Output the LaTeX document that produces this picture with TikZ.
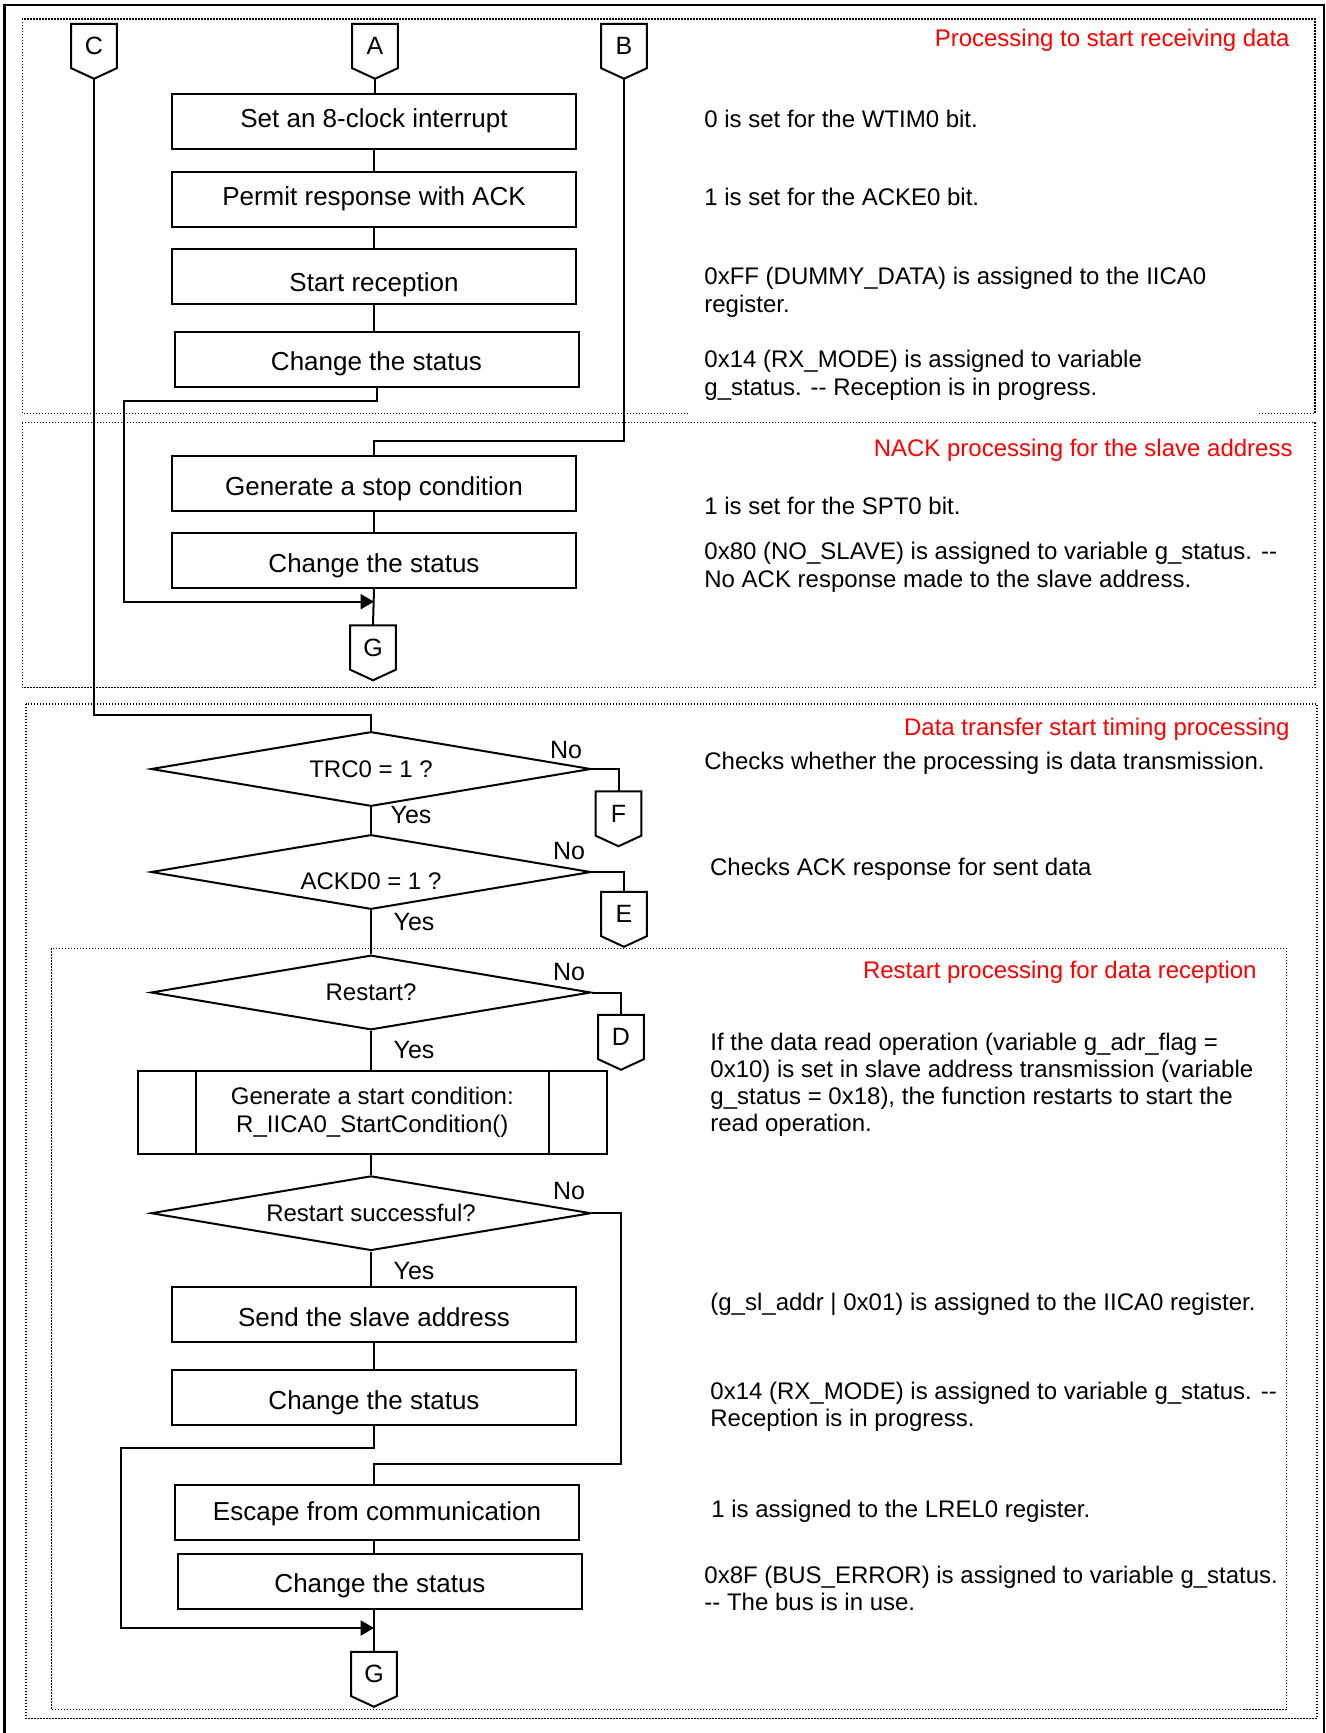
\documentclass[tikz,border=0pt]{standalone}
\usepackage{fontspec}
\setmainfont{Liberation Sans}
\usetikzlibrary{shapes.geometric,arrows.meta,calc}

\tikzset{
  line/.style={line width=1pt},
  proc/.style={draw, line width=1pt, rectangle, minimum width=202pt, minimum height=27.5pt, inner sep=0pt, text height=8pt, text depth=0pt, font=\fontsize{13}{15.6}\selectfont},
  dec/.style={diamond, draw, line width=1pt, aspect=5.9, minimum width=220pt, minimum height=37.3pt, inner sep=0pt, font=\fontsize{12}{14.4}\selectfont},
  pp/.style={draw, line width=1pt, rectangle, minimum width=234.75pt, minimum height=41.5pt, inner sep=0pt, align=center, font=\fontsize{12}{14.15}\selectfont},
  conn/.style={rectangle, minimum width=22.5pt, minimum height=21.75pt, inner sep=0pt, font=\fontsize{12.5}{15}\selectfont},
  connline/.style={line width=1pt, line join=miter},
  desc/.style={anchor=base west, inner sep=0pt, align=left, font=\fontsize{12}{13.6}\selectfont},
  ttl/.style={anchor=base east, inner sep=0pt, text=red, font=\fontsize{12}{14}\selectfont},
  yn/.style={inner sep=0pt, font=\fontsize{12.5}{15}\selectfont},
  region/.style={line width=0.7pt, dash pattern=on 0.7pt off 0.8pt},
  frame/.style={line width=1.3pt},
  arr/.style={line width=1pt, -{Triangle[length=6.7pt,width=7.5pt]}},
}

% move a text down inside its node without changing the node size
\newcommand\shiftdown[2]{\raisebox{-#1}[\height][\depth]{#2}}

\newcommand\offpage[3]{%
  \node[conn] (#1) at (#2) {#3};
  \coordinate (#1t) at ([yshift=-5.3pt]#1.south);
  \draw[connline] (#1.north west) -- (#1.north east) -- (#1.south east) -- (#1t) -- (#1.south west) -- cycle;
}

\begin{document}
\begin{tikzpicture}[x=0.5pt, y=-0.5pt]
\useasboundingbox (0,0) rectangle (1326,1733);

% outer frame and regions
\draw[frame] (4.5,5) rectangle (1324,1745);
\draw[region] (688,413.3) -- (22.3,413.3) -- (22.3,19) -- (1315,19) -- (1315,413.3) -- (1258,413.3);
\draw[region] (22.3,422.7) rectangle (1315,687.5);
\draw[region] (26,704) rectangle (1317,1718.5);
\draw[region] (51.3,948.3) rectangle (1286.5,1709.5);

% titles
\node[ttl] (t1) at (1290,46.7) {Processing to start receiving data};
\node[ttl] (t2) at (1293,456.7) {NACK processing for the slave address};
\node[ttl] (t3) at (1290,735) {Data transfer start timing processing};
\node[ttl] (t4) at (1257,978.3) {Restart processing for data reception};

% off-page connectors
\offpage{C}{94,46}{C}
\offpage{A}{375,46}{A}
\offpage{B}{624,46}{B}
\offpage{G1}{373,647.5}{G}
\offpage{F}{618.5,813.5}{F}
\offpage{E}{624,914}{E}
\offpage{D}{621,1037}{D}
\offpage{G2}{374,1674}{G}

% process boxes
\node[proc] (set8) at (374,121.5) {\shiftdown{-1.1pt}{Set an 8-clock interrupt}};
\node[proc] (permit) at (374,199.5) {\shiftdown{-1.1pt}{Permit response with ACK}};
\node[proc] (startrx) at (374,276.5) {\shiftdown{3.6pt}{Start reception}};
\node[proc] (chg1) at (376.5,359.5) {\shiftdown{1.6pt}{Change the status}};
\node[proc] (stop) at (374,483) {\shiftdown{2.2pt}{Generate a stop condition}};
\node[proc] (chg2) at (374,560.5) {\shiftdown{2.2pt}{Change the status}};
\node[dec] (trc) at (371,769) {TRC0 = 1 ?};
\node[dec] (ackd) at (371,872) {\shiftdown{4.5pt}{ACKD0 = 1 ?}};
\node[dec] (rst) at (371,992.5) {Restart?};
\node[pp] (gen) at (372.3,1112) {Generate a start condition:\\R\_IICA0\_StartCondition()};
\node[dec] (rstok) at (371,1213.2) {Restart successful?};
\node[proc] (send) at (374,1314) {\shiftdown{2.2pt}{Send the slave address}};
\node[proc] (chg3) at (374,1397.5) {\shiftdown{2.2pt}{Change the status}};
\node[proc] (esc) at (377,1512) {Escape from communication};
\node[proc] (chg4) at (380,1581) {\shiftdown{1.6pt}{Change the status}};
\draw[line] ([xshift=29.5pt]gen.north west) -- ([xshift=29.5pt]gen.south west);
\draw[line] ([xshift=-29.5pt]gen.north east) -- ([xshift=-29.5pt]gen.south east);

% helper coordinates
\coordinate (j1) at (123.7,400.7);
\coordinate (m1) at (374,601.7);
\coordinate (b1) at (374,441);
\coordinate (c1) at (371,715);
\coordinate (r1) at (621.4,1464);
\coordinate (r2) at (374,1464);
\coordinate (j2) at (121.4,1448);
\coordinate (m2) at (374,1628);

% connectors, region 1
\draw[line] (At) -- (At |- set8.north);
\draw[line] (set8) -- (permit);
\draw[line] (permit) -- (startrx);
\draw[line] (startrx.south) -- (startrx.south |- chg1.north);
\draw[arr] (chg1.south) |- (j1) |- (m1);
% region 2
\draw[line] (Bt) |- (b1) -- (stop.north);
\draw[line] (stop) -- (chg2);
\draw[line] (chg2.south) -- (G1.north);
% region 3
\draw[line] (Ct) |- (c1) -- (trc.north);
\draw[line] (trc.east) -| (F.north);
\draw[line] (trc.south) -- (ackd.north);
\draw[line] (ackd.east) -| (E.north);
\draw[line] (ackd.south) -- (rst.north);
\draw[line] (rst.east) -| (D.north);
\draw[line] (rst.south) -- (rst.south |- gen.north);
\draw[line] (rstok.north |- gen.south) -- (rstok.north);
\draw[line] (rstok.east) -| (r1) -- (r2) -- (r2 |- esc.north);
\draw[line] (rstok.south) -- (rstok.south |- send.north);
\draw[line] (send) -- (chg3);
\draw[arr] (chg3.south) |- (j2) |- (m2);
\draw[line] (r2 |- esc.south) -- (r2 |- chg4.north);
\draw[line] (r2 |- chg4.south) -- (G2.north);

% yes / no labels
\node[yn] (no1) at (566,750) {No};
\node[yn] (yes1) at (411,815) {Yes};
\node[yn] (no2) at (569,851.5) {No};
\node[yn] (yes2) at (414,922.5) {Yes};
\node[yn] (no3) at (569,971.7) {No};
\node[yn] (yes3) at (414,1050) {Yes};
\node[yn] (no4) at (569,1191.5) {No};
\node[yn] (yes4) at (414,1270.8) {Yes};

% descriptions (base anchor = baseline of the last line)
\node[desc] (d1) at (704,127.7) {0 is set for the WTIM0 bit.};
\node[desc] (d2) at (704,205.5) {1 is set for the ACKE0 bit.};
\node[desc] (d3) at (704,312.2) {0xFF (DUMMY\_DATA) is assigned to the IICA0\\register.};
\node[desc] (d4) at (704,395) {0x14 (RX\_MODE) is assigned to variable\\g\_status. -{}- Reception is in progress.};
\node[desc] (d5) at (704,514.3) {1 is set for the SPT0 bit.};
\node[desc] (d6) at (704,587) {0x80 (NO\_SLAVE) is assigned to variable g\_status. -{}-\\No ACK response made to the slave address.};
\node[desc] (d7) at (704,769.3) {Checks whether the processing is data transmission.};
\node[desc] (d8) at (709.7,875) {Checks ACK response for sent data};
\node[desc] (d9) at (710,1131.6) {If the data read operation (variable g\_adr\_flag =\\0x10) is set in slave address transmission (variable\\g\_status = 0x18), the function restarts to start the\\read operation.};
\node[desc] (d10) at (710,1310) {(g\_sl\_addr | 0x01) is assigned to the IICA0 register.};
\node[desc] (d11) at (710,1426.2) {0x14 (RX\_MODE) is assigned to variable g\_status. -{}-\\Reception is in progress.};
\node[desc] (d12) at (711,1517.3) {1 is assigned to the LREL0 register.};
\node[desc] (d13) at (704,1610.2) {0x8F (BUS\_ERROR) is assigned to variable g\_status.\\-{}- The bus is in use.};
\end{tikzpicture}
\end{document}
